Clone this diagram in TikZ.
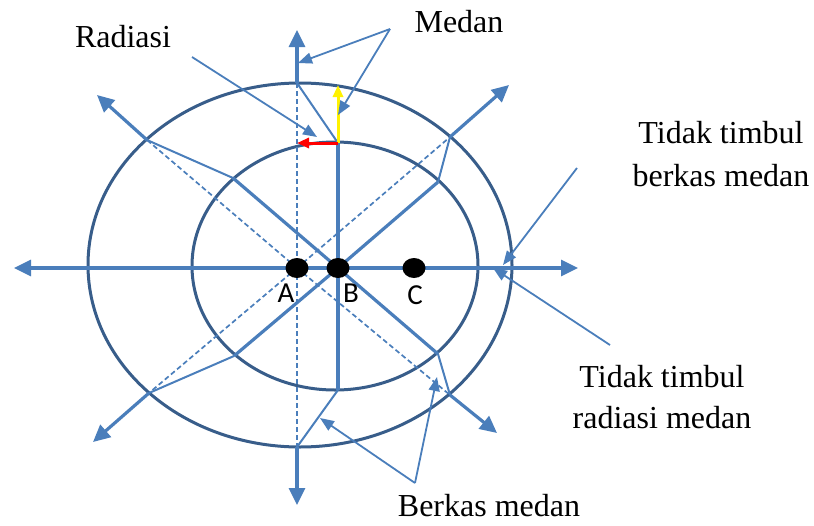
\documentclass[tikz,border=0pt]{standalone}
\usepackage{fontspec}
\setmainfont{Liberation Serif}
\newfontfamily\lblfont{Carlito}
\usetikzlibrary{arrows.meta}
\definecolor{fieldblue}{HTML}{4A7EBB}
\definecolor{ringblue}{HTML}{385D8A}
\tikzset{
  ring/.style={draw=ringblue, line width=3pt},
  fieldline/.style={draw=fieldblue, line width=3.2pt},
  fieldarrow/.style={fieldline, -{Triangle[length=17pt,width=16pt]}},
  kink/.style={draw=fieldblue, line width=2pt},
  dashline/.style={draw=fieldblue, line width=1.7pt, dash pattern=on 5pt off 3pt},
  pointer/.style={draw=fieldblue, line width=1.8pt, -{Triangle[length=14pt,width=11pt]}},
  lbl/.style={font=\fontsize{32}{40}\selectfont, anchor=base, inner sep=0pt},
  ptlbl/.style={font=\lblfont\fontsize{29}{32}\selectfont, anchor=base, inner sep=0pt},
}
\begin{document}
\begin{tikzpicture}[x=1pt,y=-1pt]
\useasboundingbox (0,0) rectangle (814,525);
% key points
\coordinate (A) at (297,268);
\coordinate (B) at (338,268);
\coordinate (C) at (414,268);
\coordinate (oT) at (297,83);
\coordinate (oB) at (297,447);
\coordinate (iT) at (338,143);
\coordinate (iB) at (338,390);
\coordinate (oUR) at (450,137);
\coordinate (iUR) at (438,182);
\coordinate (tUR) at (509,85);
\coordinate (oUL) at (147,140);
\coordinate (iUL) at (233,178);
\coordinate (tUL) at (97,95);
\coordinate (oLL) at (149,393);
\coordinate (iLL) at (234,356);
\coordinate (tLL) at (93,442);
\coordinate (oLR) at (450,395);
\coordinate (iLR) at (438,354);
\coordinate (tLR) at (497,433);
\coordinate (tL) at (14,268);
\coordinate (tR) at (578,268);
\coordinate (tT) at (297,30);
\coordinate (tB) at (297,505);
\coordinate (yT) at (338,85);
\coordinate (rT) at (297,143);
% ellipses
\draw[ring] (300,265) ellipse [x radius=212, y radius=182];
\draw[ring] (335,266) ellipse [x radius=143, y radius=124];
% dashed lines from A
\draw[dashline] (oT) -- (oB);
\draw[dashline] (A) -- (oUR);
\draw[dashline] (A) -- (oUL);
\draw[dashline] (A) -- (oLL);
\draw[dashline] (A) -- (oLR);
% solid lines from B
\draw[fieldline] (iT) -- (iB);
\draw[fieldline] (B) -- (iUR);
\draw[fieldline] (B) -- (iUL);
\draw[fieldline] (B) -- (iLL);
\draw[fieldline] (B) -- (iLR);
% kinks between rings
\draw[kink] (iT) -- (oT);
\draw[kink] (iB) -- (oB);
\draw[kink] (iUR) -- (oUR);
\draw[kink] (iUL) -- (oUL);
\draw[kink] (iLL) -- (oLL);
\draw[kink] (iLR) -- (oLR);
% outer arrows
\draw[fieldarrow] (oT) -- (tT);
\draw[fieldarrow] (oB) -- (tB);
\draw[fieldarrow] (oUR) -- (tUR);
\draw[fieldarrow] (oUL) -- (tUL);
\draw[fieldarrow] (oLL) -- (tLL);
\draw[fieldarrow] (oLR) -- (tLR);
\draw[fieldline, {Triangle[length=17pt,width=16pt]}-{Triangle[length=17pt,width=16pt]}] (tL) -- (tR);
% yellow and red vectors
\draw[draw=yellow, line width=3pt, -{Triangle[length=12pt,width=10pt]}] (iT) -- (yT);
\draw[draw=red, line width=3pt, -{Triangle[length=12pt,width=10pt]}] (iT) -- (rT);
% charges
\fill[black] (A) ellipse [x radius=11.5, y radius=10];
\fill[black] (B) ellipse [x radius=11.5, y radius=10];
\fill[black] (C) ellipse [x radius=11.5, y radius=10];
\node[ptlbl] (lA) at (286,302) {A};
\node[ptlbl] (lB) at (351,302) {B};
\node[ptlbl] (lC) at (415,304) {C};
% labels
\node[lbl] (medan) at (459,32) {Medan};
\node[lbl] (radiasi) at (123,47) {Radiasi};
\node[lbl] (ttb1) at (721,143) {Tidak timbul};
\node[lbl] (ttb2) at (721,186) {berkas medan};
\node[lbl] (ttr1) at (662,387) {Tidak timbul};
\node[lbl] (ttr2) at (662,428) {radiasi medan};
\node[lbl] (berkas) at (489,516) {Berkas medan};
% pointer origins and targets
\coordinate (pM) at (390,29);
\coordinate (pM1) at (298,63);
\coordinate (pM2) at (338,115);
\coordinate (pR) at (192,57);
\coordinate (pR1) at (317,137);
\coordinate (pTB) at (577,168);
\coordinate (pTB1) at (503,265);
\coordinate (pTR) at (610,345);
\coordinate (pTR1) at (493,268);
\coordinate (pBM) at (415,483);
\coordinate (pBM1) at (320,418);
\coordinate (pBM2) at (437,377);
\draw[pointer] (pM) -- (pM1);
\draw[pointer] (pM) -- (pM2);
\draw[pointer] (pR) -- (pR1);
\draw[pointer] (pTB) -- (pTB1);
\draw[pointer] (pTR) -- (pTR1);
\draw[pointer] (pBM) -- (pBM1);
\draw[pointer] (pBM) -- (pBM2);
\end{tikzpicture}
\end{document}
